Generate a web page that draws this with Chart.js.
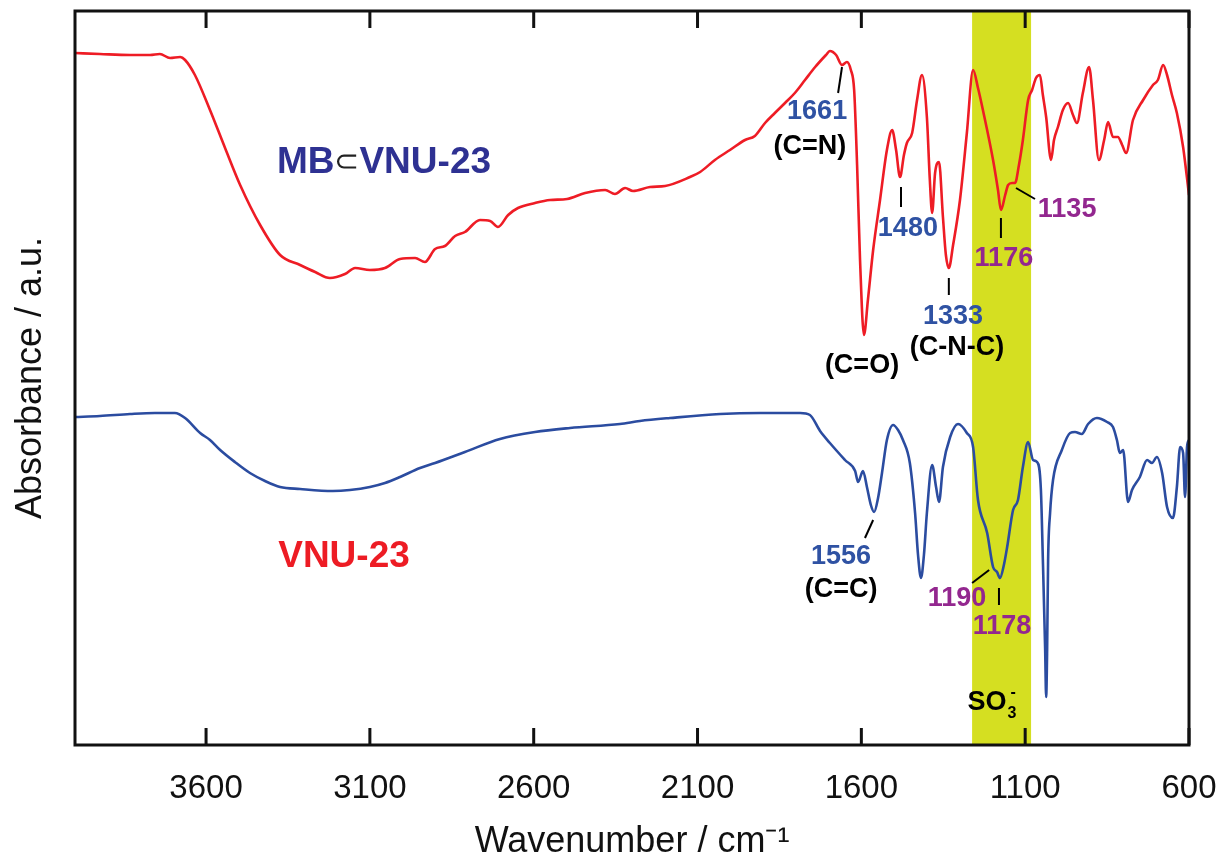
<!DOCTYPE html>
<html>
<head>
<meta charset="utf-8">
<script src="https://cdn.jsdelivr.net/npm/chart.js@4.4.1/dist/chart.umd.min.js"></script>
<style>
  body { margin: 0; background: #fff; }
  #wrap { width: 1223px; height: 864px; }
</style>
</head>
<body>
<div id="wrap"><canvas id="ir" width="1223" height="864"></canvas></div>
<script>
// x axis (wavenumber, cm-1), drawn high -> low
const wavenumberTicks = [3600, 3100, 2600, 2100, 1600, 1100, 600];
const sulfonateBand = [1262, 1082];

// MB⊂VNU-23 spectrum (red, offset upward)
const redWavenumber = [4000,3924,3832,3771,3741,3710,3679,3664,3634,3588,
  3542,3496,3435,3374,3313,3267,3222,3176,3145,3100,
  3054,3008,2962,2932,2901,2871,2840,2810,2764,2733,
  2709,2678,2648,2596,2550,2498,2443,2382,2352,2321,
  2297,2245,2199,2123,2092,2047,2001,1955,1925,1894,
  1864,1833,1803,1772,1741,1708,1696,1677,1659,1644,
  1632,1622,1613,1604,1592,1580,1564,1543,1522,1506,
  1494,1482,1470,1461,1445,1430,1415,1400,1391,1384,
  1375,1363,1351,1342,1333,1320,1299,1278,1259,1244,
  1229,1198,1183,1174,1161,1152,1140,1131,1119,1107,
  1091,1079,1067,1055,1046,1036,1021,1012,1000,985,
  969,954,942,924,905,893,875,859,847,832,
  817,804,792,771,740,710,695,679,667,652,
  637,618,600];
const redAbsorbance = [6.92,6.91,6.90,6.90,6.91,6.87,6.88,6.85,6.70,6.35,
  5.97,5.60,5.20,4.90,4.80,4.73,4.67,4.71,4.77,4.75,
  4.77,4.86,4.87,4.83,4.96,4.99,5.09,5.13,5.25,5.24,
  5.18,5.30,5.37,5.42,5.45,5.46,5.52,5.55,5.51,5.57,
  5.54,5.58,5.59,5.68,5.73,5.85,5.95,6.05,6.09,6.22,
  6.32,6.42,6.52,6.65,6.78,6.90,6.94,6.90,6.80,6.83,
  6.75,6.55,5.80,4.85,4.10,4.45,4.95,5.45,5.95,6.15,
  5.95,5.68,5.90,6.02,6.12,6.45,6.70,6.28,5.65,5.32,
  5.72,5.83,5.28,4.90,4.77,5.00,5.45,6.12,6.75,6.57,
  6.35,5.85,5.55,5.35,5.50,5.60,5.62,5.62,5.80,6.05,
  6.45,6.55,6.67,6.70,6.50,6.28,5.85,6.05,6.18,6.35,
  6.42,6.30,6.22,6.52,6.78,6.45,5.85,6.05,6.23,6.08,
  6.08,6.00,5.92,6.25,6.45,6.60,6.65,6.80,6.70,6.50,
  6.32,5.98,5.50];

// VNU-23 spectrum (blue)
const blueWavenumber = [4000,3924,3832,3756,3695,3664,3618,3588,3557,3512,
  3466,3420,3374,3313,3213,3161,3100,3054,3008,2947,
  2901,2810,2703,2596,2489,2337,2276,2184,2031,1909,
  1787,1757,1726,1696,1650,1619,1610,1595,1583,1571,
  1561,1549,1537,1522,1503,1488,1473,1452,1436,1427,
  1418,1409,1400,1384,1372,1363,1351,1329,1305,1278,
  1259,1244,1216,1198,1186,1177,1165,1155,1137,1122,
  1107,1091,1076,1064,1052,1046,1039,1036,1033,1030,
  1024,1015,988,963,948,927,908,881,850,832,
  820,811,801,786,774,750,728,713,698,682,
  667,649,637,627,618,612,606,600];
const blueAbsorbance = [3.28,3.29,3.31,3.32,3.32,3.27,3.12,3.05,2.95,2.83,
  2.72,2.64,2.58,2.56,2.54,2.55,2.58,2.62,2.68,2.77,
  2.82,2.93,3.06,3.13,3.17,3.21,3.24,3.27,3.31,3.32,
  3.32,3.30,3.14,3.02,2.85,2.74,2.63,2.74,2.58,2.40,
  2.33,2.47,2.72,3.05,3.20,3.15,3.05,2.82,2.32,1.90,
  1.67,1.90,2.32,2.80,2.58,2.43,2.78,3.08,3.21,3.12,
  2.98,2.45,2.12,1.78,1.73,1.67,1.80,1.98,2.35,2.45,
  2.78,3.03,2.85,2.83,2.55,1.85,0.95,0.48,0.95,1.85,
  2.32,2.65,2.95,3.12,3.13,3.11,3.21,3.27,3.23,3.18,
  3.05,2.92,2.95,2.43,2.55,2.68,2.85,2.82,2.88,2.72,
  2.38,2.27,2.58,2.98,2.92,2.48,2.98,3.05];

const FONT = "'Liberation Sans', Arial, sans-serif";
const NUM_BLUE = '#2f52a3';
const PURPLE = '#93278f';

// peak labels, placed in data space (wavenumber, a.u.)
const peakLabels = [
  { text: '1661', wn: 1735, a: 6.33, color: NUM_BLUE },
  { text: '(C=N)', wn: 1757, a: 5.98, color: '#000' },
  { text: '1480', wn: 1458, a: 5.16, color: NUM_BLUE },
  { text: '1333', wn: 1320, a: 4.28, color: NUM_BLUE },
  { text: '(C-N-C)', wn: 1308, a: 3.97, color: '#000' },
  { text: '(C=O)', wn: 1598, a: 3.79, color: '#000' },
  { text: '1176', wn: 1165, a: 4.86, color: PURPLE },
  { text: '1135', wn: 972, a: 5.35, color: PURPLE },
  { text: '1556', wn: 1662, a: 1.88, color: NUM_BLUE },
  { text: '(C=C)', wn: 1662, a: 1.55, color: '#000' },
  { text: '1190', wn: 1308, a: 1.46, color: PURPLE },
  { text: '1178', wn: 1171, a: 1.18, color: PURPLE }
];
const leaderLines = [
  [1671, 6.52, 1659, 6.78],
  [1479, 5.58, 1479, 5.38],
  [1333, 4.67, 1333, 4.50],
  [1174, 5.27, 1174, 5.07],
  [1128, 5.57, 1070, 5.46],
  [1564, 2.25, 1589, 2.07],
  [1262, 1.62, 1210, 1.75],
  [1180, 1.57, 1180, 1.40]
];

const toPoints = (xs, ys) => xs.map((x, i) => ({ x: x, y: ys[i] }));

const bandPlugin = {
  id: 'band',
  beforeDatasetsDraw(chart) {
    const { ctx, chartArea, scales: { x } } = chart;
    const a = x.getPixelForValue(sulfonateBand[0]);
    const b = x.getPixelForValue(sulfonateBand[1]);
    ctx.save();
    ctx.fillStyle = '#d5df21';
    ctx.fillRect(Math.min(a, b), chartArea.top, Math.abs(b - a), chartArea.bottom - chartArea.top);
    ctx.restore();
  }
};

const framePlugin = {
  id: 'frame',
  afterDatasetsDraw(chart) {
    const { ctx, chartArea: ca, scales: { x, y } } = chart;
    ctx.save();
    ctx.strokeStyle = '#111';
    ctx.lineWidth = 3;
    ctx.strokeRect(ca.left, ca.top, ca.right - ca.left, ca.bottom - ca.top);
    // inward tick marks, top and bottom
    wavenumberTicks.forEach(v => {
      const px = x.getPixelForValue(v);
      ctx.beginPath();
      ctx.moveTo(px, ca.bottom); ctx.lineTo(px, ca.bottom - 17);
      ctx.moveTo(px, ca.top); ctx.lineTo(px, ca.top + 17);
      ctx.stroke();
    });

    // leader lines
    ctx.lineWidth = 2;
    ctx.strokeStyle = '#000';
    leaderLines.forEach(l => {
      ctx.beginPath();
      ctx.moveTo(x.getPixelForValue(l[0]), y.getPixelForValue(l[1]));
      ctx.lineTo(x.getPixelForValue(l[2]), y.getPixelForValue(l[3]));
      ctx.stroke();
    });

    // peak labels
    ctx.textAlign = 'center';
    ctx.textBaseline = 'middle';
    ctx.font = 'bold 27px ' + FONT;
    peakLabels.forEach(p => {
      ctx.fillStyle = p.color;
      ctx.fillText(p.text, x.getPixelForValue(p.wn), y.getPixelForValue(p.a));
    });

    // sample names
    ctx.font = 'bold 37px ' + FONT;
    ctx.fillStyle = '#ed1c24';
    ctx.fillText('VNU-23', x.getPixelForValue(3179), y.getPixelForValue(1.88));

    const parts = [
      { t: 'MB', f: 'bold 37px ' + FONT, c: '#2e3192' },
      { t: '\u2282', f: '30px ' + FONT, c: '#222' },
      { t: 'VNU-23', f: 'bold 37px ' + FONT, c: '#2e3192' }
    ];
    let total = 0;
    parts.forEach(p => { ctx.font = p.f; p.w = ctx.measureText(p.t).width; total += p.w; });
    let cx = x.getPixelForValue(3057) - total / 2;
    const cy = y.getPixelForValue(5.82);
    ctx.textAlign = 'left';
    parts.forEach(p => {
      ctx.font = p.f; ctx.fillStyle = p.c;
      ctx.fillText(p.t, cx, cy);
      cx += p.w;
    });

    // SO3- in the band
    const sx = x.getPixelForValue(1204);
    const sy = y.getPixelForValue(0.42);
    ctx.fillStyle = '#000';
    ctx.font = 'bold 27px ' + FONT;
    const w = ctx.measureText('SO').width;
    ctx.fillText('SO', sx - w / 2 - 4, sy);
    ctx.font = 'bold 16px ' + FONT;
    ctx.fillText('3', sx + w / 2 - 3, sy + 11);
    ctx.fillText('-', sx + w / 2, sy - 10);
    ctx.restore();
  }
};

new Chart(document.getElementById('ir'), {
  type: 'line',
  data: {
    datasets: [
      {
        label: 'MB\u2282VNU-23',
        data: toPoints(redWavenumber, redAbsorbance),
        borderColor: '#ee1c25',
        borderWidth: 2.6,
        pointRadius: 0,
        cubicInterpolationMode: 'monotone'
      },
      {
        label: 'VNU-23',
        data: toPoints(blueWavenumber, blueAbsorbance),
        borderColor: '#2b4ca0',
        borderWidth: 2.6,
        pointRadius: 0,
        cubicInterpolationMode: 'monotone'
      }
    ]
  },
  options: {
    responsive: false,
    animation: false,
    layout: { padding: { top: 11, right: 34, left: 0, bottom: 0 } },
    plugins: { legend: { display: false }, tooltip: { enabled: false } },
    scales: {
      x: {
        type: 'linear',
        min: 600,
        max: 4000,
        reverse: true,
        afterBuildTicks: s => { s.ticks = wavenumberTicks.map(v => ({ value: v })); },
        afterFit: s => { s.height = 119; s.paddingLeft = 0; s.paddingRight = 0; },
        grid: { display: false, drawTicks: false },
        border: { display: false },
        ticks: {
          color: '#111',
          font: { family: FONT, size: 33 },
          padding: 24,
          maxRotation: 0,
          callback: v => String(v)
        },
        title: {
          display: true,
          text: 'Wavenumber / cm\u207B\u00B9',
          color: '#111',
          font: { family: FONT, size: 36 },
          padding: { top: 0, bottom: 0 }
        }
      },
      y: {
        min: 0,
        max: 7.34,
        afterFit: s => { s.width = 75; },
        grid: { display: false, drawTicks: false },
        border: { display: false },
        ticks: { display: false },
        title: {
          display: true,
          text: 'Absorbance / a.u.',
          color: '#111',
          font: { family: FONT, size: 36 },
          padding: { top: 9, bottom: 0 }
        }
      }
    }
  },
  plugins: [bandPlugin, framePlugin]
});
</script>
</body>
</html>
